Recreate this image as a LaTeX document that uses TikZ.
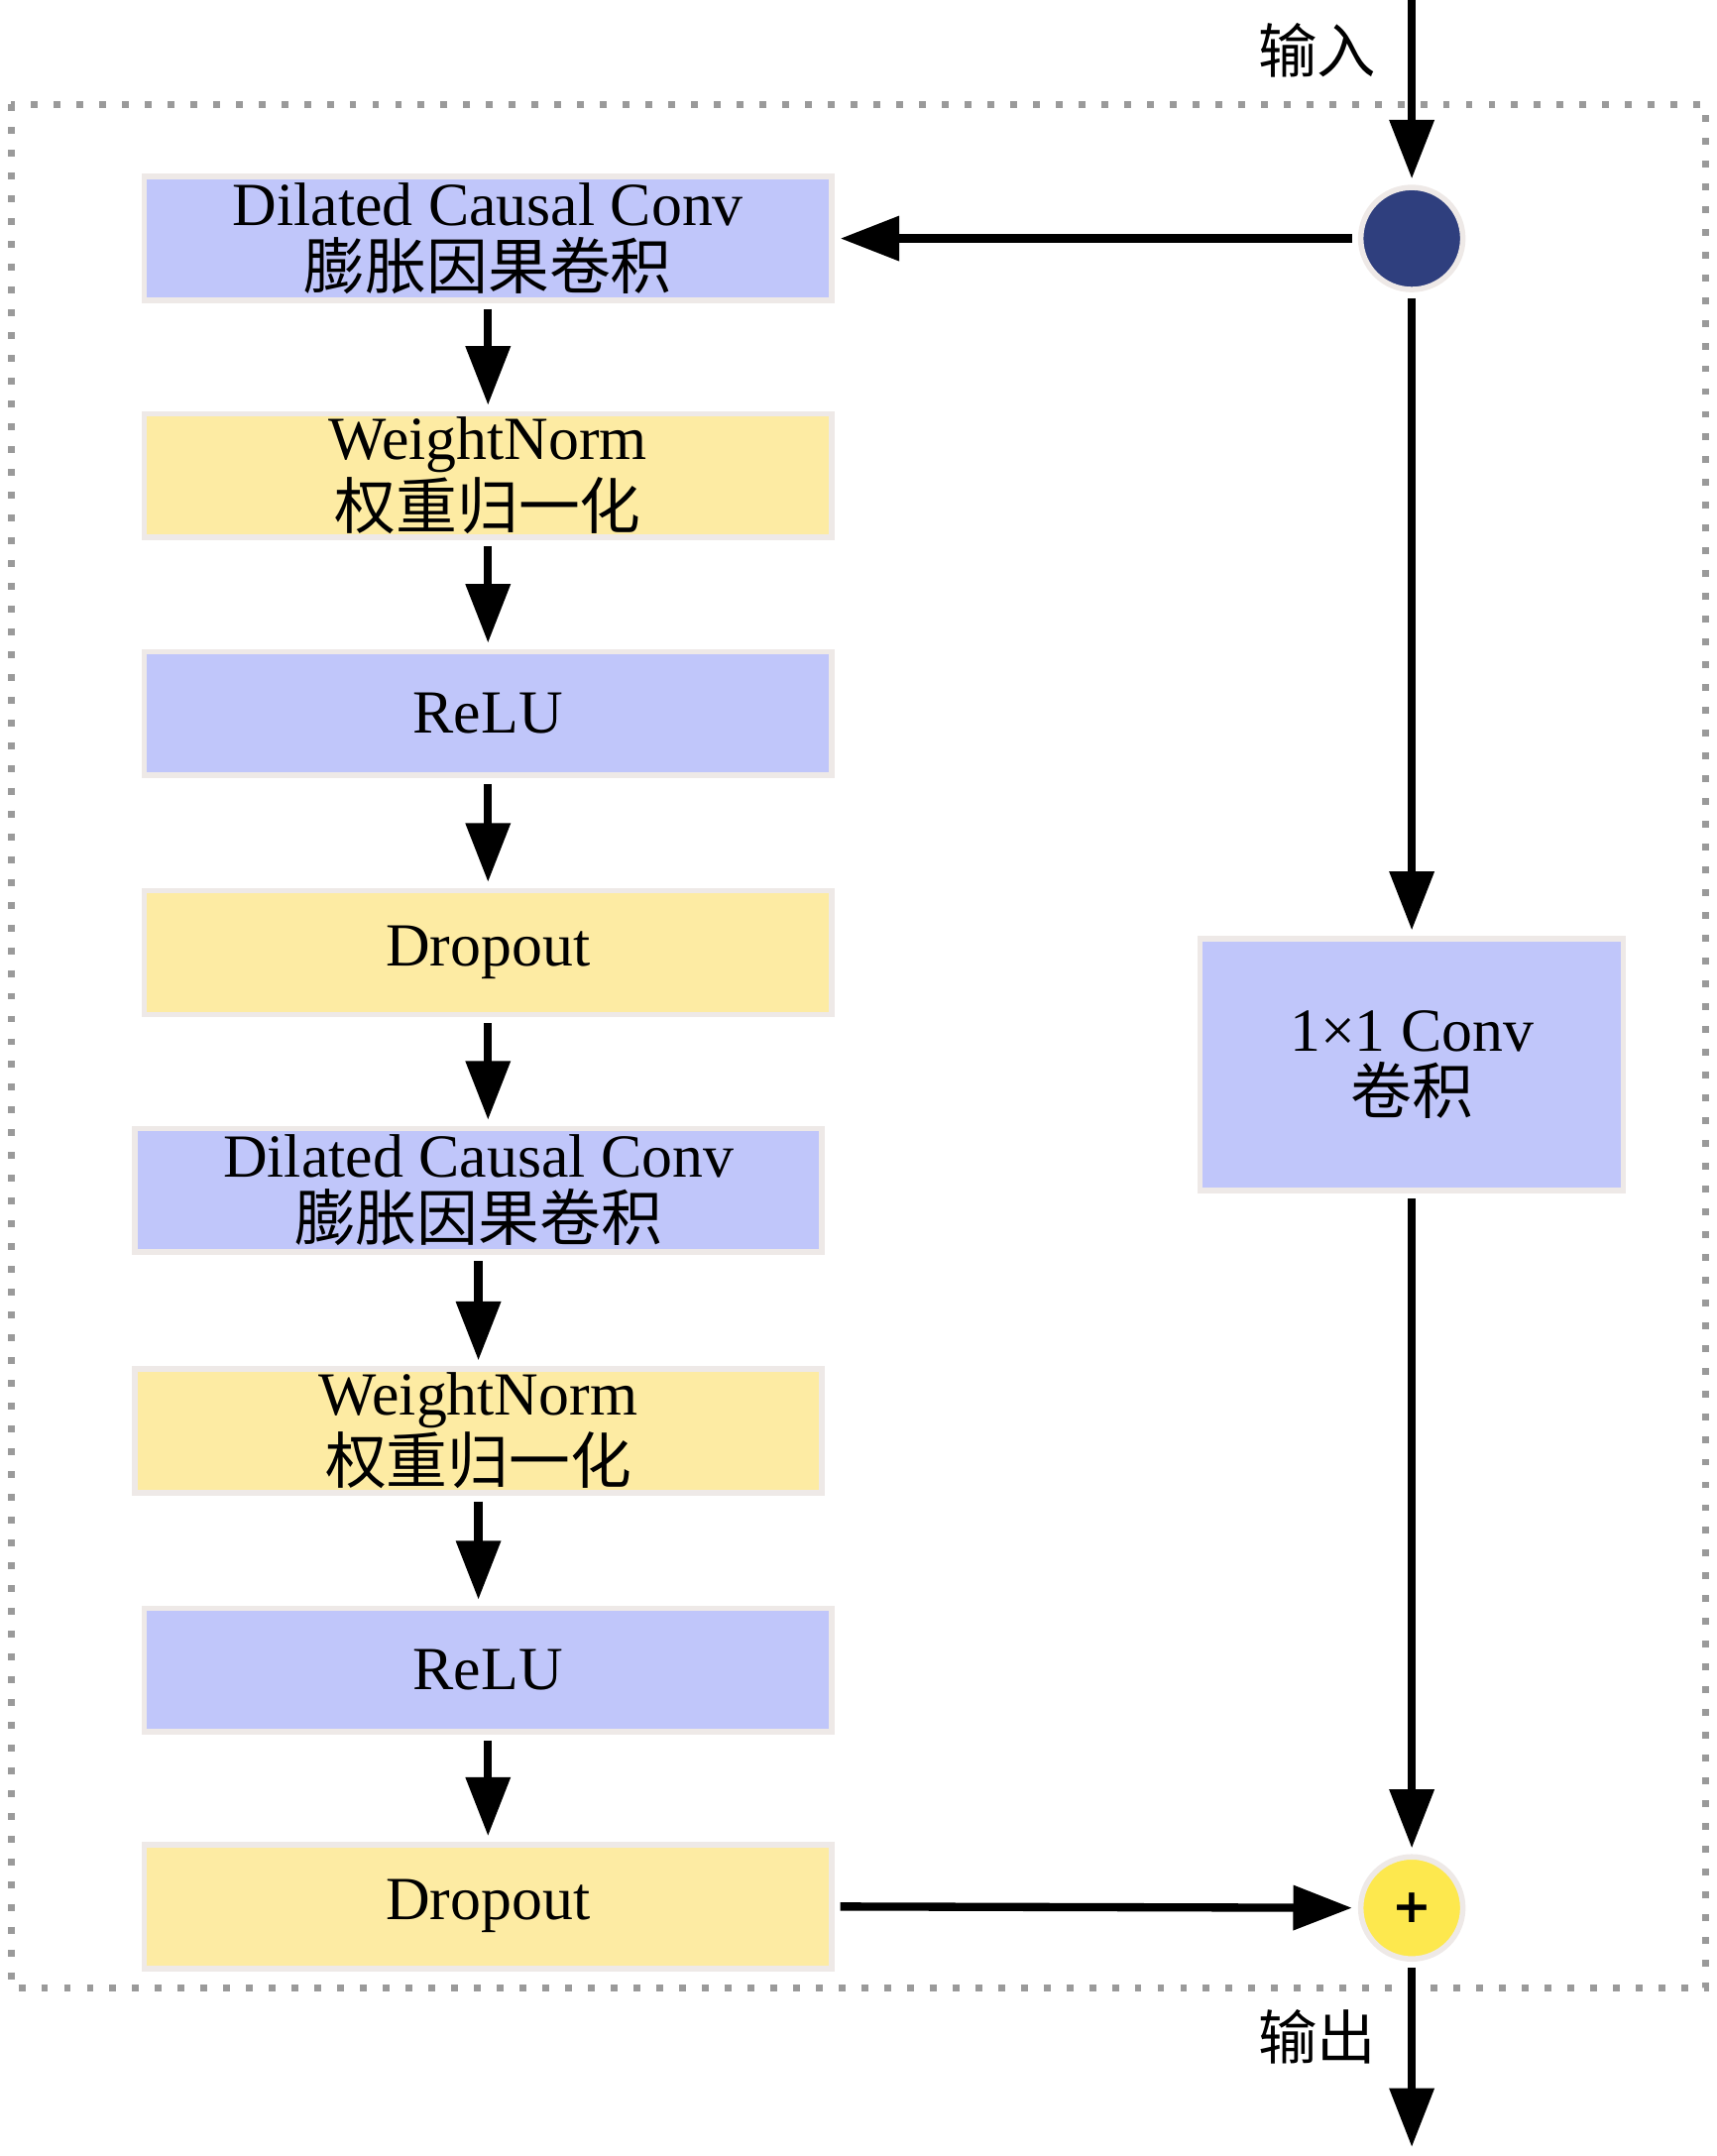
\documentclass[tikz,border=0pt]{standalone}
\usepackage{fontspec}
\setmainfont{Liberation Serif}
\newfontfamily\cjk{Noto Sans CJK SC}
\newfontfamily\plusfont{DejaVu Sans}
\usepackage{tikz}
\usetikzlibrary{positioning,arrows.meta}

\definecolor{convblue}{HTML}{C0C6FA}
\definecolor{normyellow}{HTML}{FDEBA3}
\definecolor{boxedge}{HTML}{EEE9E7}
\definecolor{splitblue}{HTML}{2F3F7E}
\definecolor{sumyellow}{HTML}{FDE84E}
\definecolor{dotgray}{HTML}{9A9A9A}

\tikzset{
  layer/.style={draw=boxedge,line width=1.4pt,inner sep=0pt,
    minimum width=175pt,minimum height=31.5pt,align=center,
    font=\fontsize{15.6}{16}\selectfont},
  bluelayer/.style={layer,fill=convblue},
  yellowlayer/.style={layer,fill=normyellow},
  flow/.style={line width=2.1pt,-{Triangle[length=15pt,width=11pt]},
    shorten >=1.5pt,shorten <=1.5pt},
  dot/.style={circle,draw=boxedge,line width=1.4pt,inner sep=0pt,
    minimum size=26pt},
  tag/.style={font=\cjk\fontsize{15}{16}\selectfont}
}

\begin{document}
\begin{tikzpicture}[x=0.35pt,y=-0.35pt]
  \useasboundingbox (0,0) rectangle (1249,1568.5);

  % residual block frame
  \draw[dotgray,line width=1.75pt,dash pattern=on 1.75pt off 4.05pt]
    (8,76) rectangle (1241,1446);

  % main branch
  \node[bluelayer]   (D1) at (355,173.5) {Dilated Causal Conv\\{\cjk 膨胀因果卷积}};
  \node[yellowlayer] (W1) at (355,346)   {WeightNorm\\{\cjk 权重归一化}};
  \node[bluelayer]   (R1) at (355,519)   {ReLU};
  \node[yellowlayer] (P1) at (355,693)   {Dropout};
  \node[bluelayer]   (D2) at (348,866)   {Dilated Causal Conv\\{\cjk 膨胀因果卷积}};
  \node[yellowlayer] (W2) at (348,1041)  {WeightNorm\\{\cjk 权重归一化}};
  \node[bluelayer]   (R2) at (355,1215)  {ReLU};
  \node[yellowlayer] (P2) at (355,1387)  {Dropout};

  % skip branch
  \node[dot,fill=splitblue] (S) at (1027,173.5) {};
  \node[layer,fill=convblue,minimum width=107.8pt,minimum height=64pt]
    (C) at (1027,774.5) {1×1 Conv\\{\cjk 卷积}};
  \node[dot,fill=sumyellow,font=\plusfont\bfseries\fontsize{12}{12}\selectfont]
    (A) at (1027,1388) {+};

  \coordinate (in) at (1027,0);
  \coordinate (out) at (1027,1562);
  \node[tag] (inlabel) at (958,37) {输入};
  \node[tag] (outlabel) at (958,1482) {输出};

  \draw[flow,shorten <=0pt] (in) -- (S.north);
  \draw[flow] (S.west) -- (D1.east);
  \draw[flow] (S.south) -- (C.north);
  \draw[flow] (C.south) -- (A.north);
  \draw[flow] (P2.east) -- (A.west);
  \draw[flow,shorten >=0pt] (A.south) -- (out);

  \draw[flow] (D1.south) -- (D1.south |- W1.north);
  \draw[flow] (W1.south) -- (W1.south |- R1.north);
  \draw[flow] (R1.south) -- (R1.south |- P1.north);
  \draw[flow] (P1.south) -- (P1.south |- D2.north);
  \draw[flow] (D2.south) -- (D2.south |- W2.north);
  \draw[flow] (W2.south) -- (W2.south |- R2.north);
  \draw[flow] (R2.south) -- (R2.south |- P2.north);
\end{tikzpicture}
\end{document}
